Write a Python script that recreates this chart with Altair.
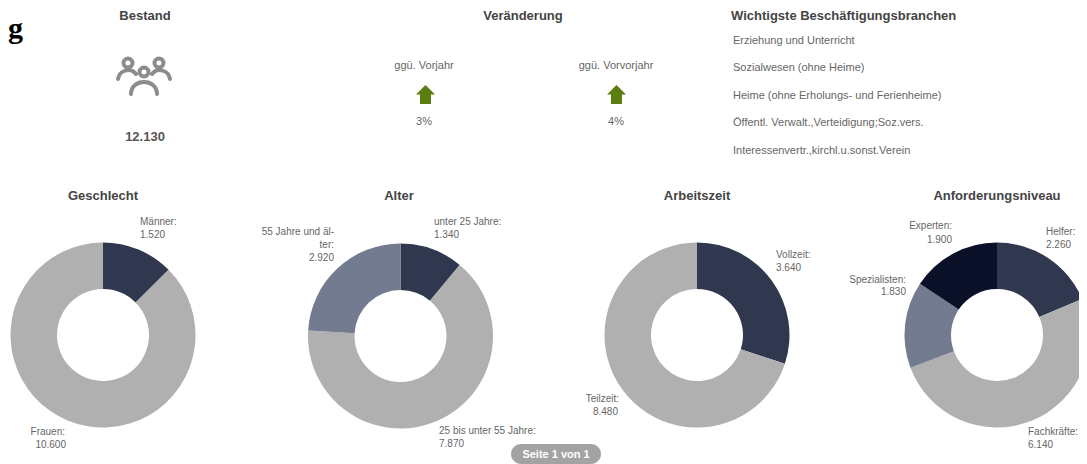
import altair as alt
import pandas as pd

FONT = "Liberation Sans"
M = 8  # page margin

# ---- data values ----
geschlecht_cat = ["Männer", "Frauen"]
geschlecht_val = [1520, 10600]
alter_cat = ["unter 25 Jahre", "25 bis unter 55 Jahre", "55 Jahre und älter"]
alter_val = [1340, 7870, 2920]
arbeitszeit_cat = ["Vollzeit", "Teilzeit"]
arbeitszeit_val = [3640, 8480]
niveau_cat = ["Helfer", "Fachkräfte", "Spezialisten", "Experten"]
niveau_val = [2260, 6140, 1830, 1900]
branchen = [
    "Erziehung und Unterricht",
    "Sozialwesen (ohne Heime)",
    "Heime (ohne Erholungs- und Ferienheime)",
    "Öffentl. Verwalt.,Verteidigung;Soz.vers.",
    "Interessenvertr.,kirchl.u.sonst.Verein",
]

# ---- layout ----
DARK, GREY, MID, DARKEST = "#2f384f", "#b0b0b0", "#737b90", "#0b1029"
palette = [DARK, GREY, MID, DARKEST]
donuts = [
    (geschlecht_cat, geschlecht_val, 103, 335),
    (alter_cat, alter_val, 400.5, 336),
    (arbeitszeit_cat, arbeitszeit_val, 697, 335),
    (niveau_cat, niveau_val, 997, 335),
]


def donut(cats, vals, cx, cy):
    df = pd.DataFrame({"cat": cats, "val": vals, "idx": range(len(cats))})
    return alt.Chart(df).mark_arc(outerRadius=92.5, innerRadius=46).encode(
        theta=alt.Theta("val:Q", stack=True),
        order=alt.Order("idx:Q"),
        color=alt.Color("cat:N", sort=cats, legend=None,
                        scale=alt.Scale(domain=cats, range=palette[:len(cats)])),
        x=alt.value(cx - M),
        y=alt.value(cy - M),
    )


def texts(rows, size=10, color="#666666", bold=False, align="left"):
    df = pd.DataFrame(rows, columns=["t", "px", "py"])
    df["px"] = df["px"] - M
    df["py"] = df["py"] - M
    return alt.Chart(df).mark_text(
        font=FONT, fontSize=size, color=color, align=align, baseline="middle",
        fontWeight="bold" if bold else "normal",
    ).encode(
        text="t:N",
        x=alt.X("px:Q", scale=None, axis=None),
        y=alt.Y("py:Q", scale=None, axis=None),
    )


def symbol(path, xs, ys, **kw):
    df = pd.DataFrame({"px": [v - M for v in xs], "py": [v - M for v in ys]})
    return alt.Chart(df).mark_point(shape=path, size=4, **kw).encode(
        x=alt.X("px:Q", scale=None, axis=None),
        y=alt.Y("py:Q", scale=None, axis=None),
    )


people = (
    "M4.5,-7A4.5,4.5 0 1,1 -4.5,-7A4.5,4.5 0 1,1 4.5,-7Z"
    "M-11.5,-16A4.5,4.5 0 1,1 -20.5,-16A4.5,4.5 0 1,1 -11.5,-16Z"
    "M19.5,-16A4.5,4.5 0 1,1 10.5,-16A4.5,4.5 0 1,1 19.5,-16Z"
    "M-13,15C-13,-1 13,-1 13,15"
    "M-26,0C-25,-6 -20,-9 -15,-9C-12,-9 -10,-7.5 -8,-5"
    "M26,0C25,-6 20,-9 15,-9C12,-9 10,-7.5 8,-5"
)
arrow = "M0,-9.5L9.5,0L5.5,0L5.5,9.5L-5.5,9.5L-5.5,0L-9.5,0Z"

title_rows = [("Bestand", 145, 15.5), ("Veränderung", 523, 15.5),
              ("Geschlecht", 103, 196), ("Alter", 399, 196),
              ("Arbeitszeit", 697, 196), ("Anforderungsniveau", 997, 196)]
left_labels = [("Männer:", 140, 222), ("1.520", 140, 235),
               ("unter 25 Jahre:", 434, 222), ("1.340", 434, 235),
               ("25 bis unter 55 Jahre:", 439, 431), ("7.870", 439, 444),
               ("Vollzeit:", 776, 255), ("3.640", 776, 268),
               ("Helfer:", 1046, 232), ("2.260", 1046, 245),
               ("Fachkräfte:", 1028, 432), ("6.140", 1028, 445)]
right_labels = [("55 Jahre und äl-", 334, 232), ("ter:", 334, 245), ("2.920", 334, 258),
                ("Frauen:", 65, 432), ("10.600", 66, 445),
                ("Teilzeit:", 619, 399), ("8.480", 618, 412),
                ("Experten:", 952, 226), ("1.900", 952, 240),
                ("Spezialisten:", 906, 280), ("1.830", 906, 292)]
center_labels = [("ggü. Vorjahr", 424, 66), ("ggü. Vorvorjahr", 616, 66),
                 ("3%", 424, 122), ("4%", 616, 122)]
branch_ys = [41, 68, 96, 123, 151]

button = alt.Chart(pd.DataFrame({"a": [0]})).mark_rect(
    color="#a3a3a3", cornerRadius=10
).encode(x=alt.value(511 - M), x2=alt.value(601 - M),
         y=alt.value(444 - M), y2=alt.value(464 - M))

g = alt.Chart(pd.DataFrame({"t": ["g"]})).mark_text(
    font="Liberation Serif", fontSize=30, fontWeight="bold", color="#000000",
    align="left", baseline="middle",
).encode(text="t:N", x=alt.value(0), y=alt.value(21))

layers = [donut(*d) for d in donuts] + [
    texts(title_rows, size=13, color="#444444", bold=True, align="center"),
    texts([("Wichtigste Beschäftigungsbranchen", 731, 15.5)], size=13, color="#444444", bold=True),
    texts([("12.130", 145, 137)], size=13, color="#555555", bold=True, align="center"),
    texts(left_labels),
    texts(right_labels, align="right"),
    texts(center_labels, size=11, align="center"),
    texts([(b, 733, y) for b, y in zip(branchen, branch_ys)], size=11),
    symbol(people, [144], [79], filled=False, stroke="#8c8c8c", strokeWidth=4,
           strokeCap="round", opacity=1),
    symbol(arrow, [425.5, 616.5], [94.5, 94.5], filled=True, fill="#5a7f10", opacity=1, strokeWidth=0),
    button,
    texts([("Seite 1 von 1", 556, 455)], size=11, color="#ffffff", bold=True, align="center"),
    g,
]

chart = alt.layer(*layers).resolve_scale(
    theta="independent", color="independent"
).properties(
    width=1087 - 2 * M, height=464 - M, padding=0,
    autosize=alt.AutoSizeParams(type="none"),
).configure_view(stroke=None)

chart.save("out.html", embed_options={"renderer": "svg", "actions": False})
